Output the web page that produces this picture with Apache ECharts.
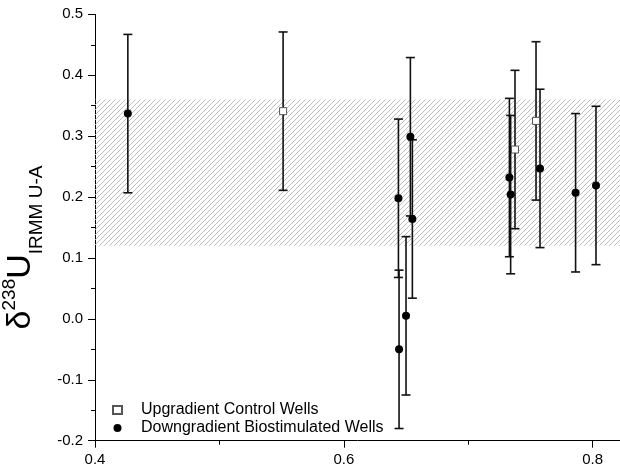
<!DOCTYPE html>
<html>
<head>
<meta charset="utf-8">
<script src="https://cdn.jsdelivr.net/npm/echarts@6/dist/echarts.min.js"></script>
<style>
  html, body { margin: 0; padding: 0; background: #fff; }
  #chart { width: 620px; height: 470px; }
</style>
</head>
<body>
<div id="chart"></div>
<script>
// upgradient control wells (open squares)
const upX = [0.5512, 0.7376, 0.7545];
const upY = [0.341, 0.278, 0.325];
const upErr = [0.13, 0.13, 0.13];

// downgradient biostimulated wells (filled circles)
const downX = [0.4264, 0.6439, 0.6444, 0.6500, 0.6535, 0.6551, 0.7331, 0.7341, 0.7577, 0.7863, 0.8027];
const downY = [0.337, 0.198, -0.050, 0.005, 0.299, 0.164, 0.232, 0.204, 0.247, 0.207, 0.219];
const downErr = [0.13, 0.13, 0.13, 0.13, 0.13, 0.13, 0.13, 0.13, 0.13, 0.13, 0.13];

const seriesNames = ['Upgradient Control Wells', 'Downgradient Biostimulated Wells'];
const bandRange = [0.12, 0.36];
const xTicks = [0.4, 0.6, 0.8];
const xMinorTicks = [0.5, 0.7];

const FONT = '"Liberation Sans", Arial, sans-serif';

// hatch pattern for the band
const hatch = document.createElement('canvas');
hatch.width = 5;
hatch.height = 5;
const hctx = hatch.getContext('2d');
hctx.strokeStyle = '#b8b8b8';
hctx.lineWidth = 0.9;
hctx.beginPath();
hctx.moveTo(0, 5); hctx.lineTo(5, 0);
hctx.moveTo(-1, 1); hctx.lineTo(1, -1);
hctx.moveTo(4, 6); hctx.lineTo(6, 4);
hctx.stroke();

const toPoints = (xs, ys) => xs.map((x, i) => [x, ys[i]]);
const toBars = (xs, ys, es) => xs.map((x, i) => [x, ys[i], es[i]]);

function renderErrorBar(params, api) {
  const x = api.value(0);
  const y = api.value(1);
  const e = api.value(2);
  const top = api.coord([x, y + e]);
  const bot = api.coord([x, y - e]);
  const w = 4.5;
  const style = { stroke: '#111', lineWidth: 1.6 };
  return {
    type: 'group',
    children: [
      { type: 'line', shape: { x1: top[0], y1: top[1], x2: bot[0], y2: bot[1] }, style },
      { type: 'line', shape: { x1: top[0] - w, y1: top[1], x2: top[0] + w, y2: top[1] }, style },
      { type: 'line', shape: { x1: bot[0] - w, y1: bot[1], x2: bot[0] + w, y2: bot[1] }, style }
    ]
  };
}

const chart = echarts.init(document.getElementById('chart'));

const option = {
  animation: false,
  backgroundColor: '#fff',
  grid: { left: 95, right: 0, top: 14.3, bottom: 29.3, outerBoundsMode: 'none', containLabel: false },
  legend: {
    data: seriesNames,
    orient: 'vertical',
    left: 112,
    top: 402,
    padding: 0,
    itemGap: 2,
    itemWidth: 9,
    itemHeight: 8,
    textStyle: { fontSize: 16, color: '#000', fontFamily: FONT, lineHeight: 16, padding: [0, 0, 0, 14] }
  },
  xAxis: [
    {
      type: 'value',
      min: 0.4,
      max: 0.822,
      interval: 0.1,
      splitLine: { show: false },
      axisLine: { onZero: false, lineStyle: { color: '#000', width: 1 } },
      axisTick: { customValues: xTicks, length: 7, lineStyle: { color: '#000' } },
      axisLabel: {
        customValues: xTicks,
        margin: 12,
        color: '#000',
        fontSize: 15,
        fontFamily: FONT,
        formatter: v => v.toFixed(1)
      }
    },
    {
      type: 'value',
      position: 'bottom',
      min: 0.4,
      max: 0.822,
      splitLine: { show: false },
      axisLine: { show: false, onZero: false },
      axisTick: { customValues: xMinorTicks, length: 4, lineStyle: { color: '#000' } },
      axisLabel: { show: false }
    }
  ],
  yAxis: {
    type: 'value',
    min: -0.2,
    max: 0.5,
    interval: 0.1,
    splitLine: { show: false },
    axisLine: { show: true, onZero: false, lineStyle: { color: '#000', width: 1 } },
    axisTick: { show: true, length: 7, lineStyle: { color: '#000' } },
    minorTick: { show: true, splitNumber: 2, length: 4, lineStyle: { color: '#000' } },
    axisLabel: {
      margin: 12,
      color: '#000',
      fontSize: 15,
      fontFamily: FONT,
      formatter: v => v.toFixed(1)
    },
    name: '{d|δ}{s|238}{u|U}{b|IRMM U-A}',
    nameLocation: 'middle',
    nameRotate: 90,
    nameGap: 44,
    nameTextStyle: {
      color: '#000',
      fontFamily: FONT,
      padding: [0, 40, 0, 0],
      rich: {
        d: { fontSize: 34, lineHeight: 52, fontFamily: FONT, color: '#000' },
        u: { fontSize: 34, lineHeight: 52, fontFamily: FONT, color: '#000' },
        s: { fontSize: 19, lineHeight: 19, padding: [6, 0, 0, 0], verticalAlign: 'top', fontFamily: FONT, color: '#000' },
        b: { fontSize: 19, lineHeight: 19, verticalAlign: 'bottom', fontFamily: FONT, color: '#000' }
      }
    }
  },
  series: [
    {
      type: 'custom',
      z: 1,
      renderItem: renderErrorBar,
      encode: { x: 0, y: 1 },
      data: toBars(downX, downY, downErr),
      markArea: {
        silent: true,
        itemStyle: { color: { image: hatch, repeat: 'repeat' } },
        data: [[{ yAxis: bandRange[0] }, { yAxis: bandRange[1] }]]
      }
    },
    {
      type: 'custom',
      z: 1,
      renderItem: renderErrorBar,
      encode: { x: 0, y: 1 },
      data: toBars(upX, upY, upErr)
    },
    {
      name: seriesNames[0],
      type: 'scatter',
      z: 3,
      symbol: 'rect',
      symbolSize: 7,
      itemStyle: { color: '#fff', borderColor: '#555', borderWidth: 1, opacity: 1 },
      data: toPoints(upX, upY)
    },
    {
      name: seriesNames[1],
      type: 'scatter',
      z: 3,
      symbol: 'circle',
      symbolSize: 8,
      itemStyle: { color: '#000', opacity: 1 },
      data: toPoints(downX, downY)
    }
  ]
};

chart.setOption(option);
</script>
</body>
</html>
